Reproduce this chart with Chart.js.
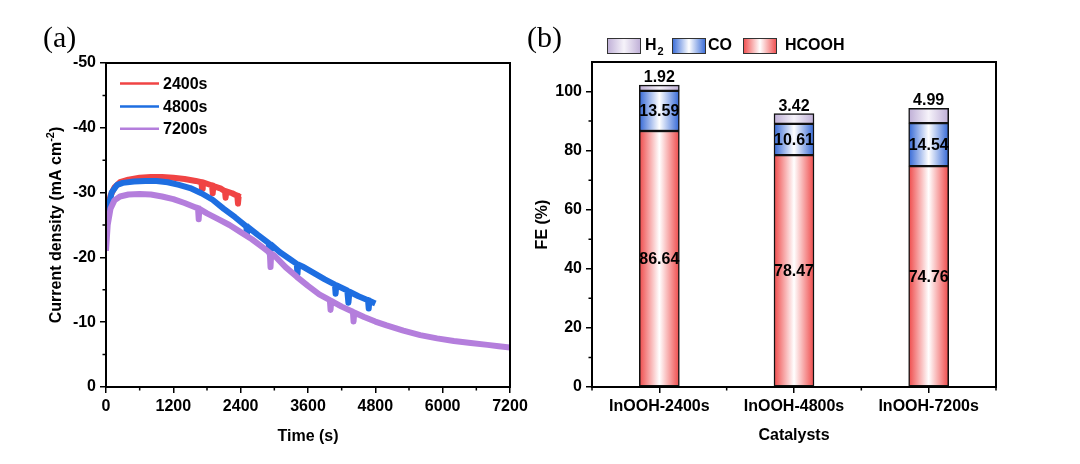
<!DOCTYPE html>
<html>
<head>
<meta charset="utf-8">
<script src="https://cdn.jsdelivr.net/npm/chart.js@4.4.1/dist/chart.umd.min.js"></script>
<style>
  html, body { margin: 0; padding: 0; background: #fff; }
  #wrap { position: relative; width: 1080px; height: 464px; overflow: hidden; }
  .box { position: absolute; top: 0; height: 464px; }
  #boxA { left: 0; width: 540px; }
  #boxB { left: 500px; width: 580px; }
</style>
</head>
<body>
<div id="wrap">
  <div class="box" id="boxA"><canvas id="chartA"></canvas></div>
  <div class="box" id="boxB"><canvas id="chartB"></canvas></div>
</div>
<script>
// (a) chronoamperometry curves (s, mA cm-2)
const redTime = [0, 30, 80, 150, 250, 400, 600, 800, 1000, 1200, 1400, 1600, 1700, 1712, 1724, 1890, 1902, 1914, 2050, 2120, 2132, 2144, 2250, 2340, 2352, 2364, 2400];
const redJ = [-24.5, -27.5, -29.5, -30.8, -31.6, -32.0, -32.3, -32.4, -32.4, -32.3, -32.1, -31.8, -31.6, -30.6, -31.6, -31.1, -29.9, -31.0, -30.6, -30.2, -29.2, -30.2, -29.9, -29.5, -28.3, -29.4, -29.3];

const blueTime = [0, 40, 100, 200, 300, 500, 700, 900, 1100, 1300, 1500, 1700, 1900, 2100, 2300, 2500, 2512, 2524, 2700, 2900, 2920, 2940, 3100, 3300, 3400, 3412, 3424, 3500, 3700, 3900, 4080, 4092, 4104, 4300, 4320, 4340, 4500, 4670, 4682, 4694, 4800];
const blueJ = [-24.5, -27.5, -30.0, -31.2, -31.5, -31.7, -31.8, -31.8, -31.6, -31.2, -30.7, -29.9, -28.9, -27.5, -26.2, -24.8, -23.6, -24.7, -23.5, -22.2, -20.4, -22.0, -20.8, -19.6, -19.0, -17.4, -18.9, -18.6, -17.6, -16.6, -15.8, -14.4, -15.7, -14.9, -13.0, -14.7, -14.0, -13.4, -12.1, -13.3, -12.9];

const purpleTime = [0, 30, 80, 150, 250, 400, 600, 800, 1000, 1200, 1400, 1600, 1640, 1652, 1664, 1800, 2000, 2200, 2400, 2600, 2800, 2920, 2932, 2944, 3000, 3200, 3400, 3600, 3800, 3990, 4002, 4014, 4200, 4400, 4412, 4424, 4600, 4800, 5000, 5300, 5600, 5900, 6200, 6500, 6800, 7000, 7200];
const purpleJ = [-21.0, -25.0, -27.5, -28.8, -29.4, -29.7, -29.8, -29.7, -29.4, -29.0, -28.4, -27.7, -27.6, -25.9, -27.5, -26.8, -25.9, -25.0, -23.9, -22.8, -21.5, -20.7, -18.5, -20.6, -20.3, -18.5, -17.0, -15.6, -14.3, -13.4, -11.9, -13.3, -12.4, -11.6, -10.1, -11.5, -10.8, -10.1, -9.5, -8.7, -8.0, -7.5, -7.1, -6.8, -6.5, -6.3, -6.1];

const curveLabels = ["2400s", "4800s", "7200s"];
const curveColors = ["#f04444", "#1e6ee1", "#b47edc"];

const timeMinor = [600, 1800, 3000, 4200, 5400, 6600];
const jMinor = [-45, -35, -25, -15, -5];

// (b) Faradaic efficiency (%)
const catalysts = ["InOOH-2400s", "InOOH-4800s", "InOOH-7200s"];
const feHCOOH = [86.64, 78.47, 74.76];
const feCO = [13.59, 10.61, 14.54];
const feH2 = [1.92, 3.42, 4.99];
const feMinor = [10, 30, 50, 70, 90];
const catMinor = [-0.5, 0.5, 1.5, 2.5];

const FONT = '"Liberation Sans", Arial, Helvetica, sans-serif';
const tickFont = { family: FONT, size: 16, weight: 'bold' };

// frame round the plot area plus short minor ticks
const framePlugin = {
  id: 'frame',
  afterDraw(chart, args, opts) {
    const { ctx, chartArea: a, scales } = chart;
    ctx.save();
    ctx.strokeStyle = '#000';
    ctx.lineWidth = 2;
    ctx.strokeRect(a.left, a.top, a.right - a.left, a.bottom - a.top);
    ctx.lineWidth = 1.5;
    ctx.beginPath();
    (opts.minorX || []).forEach(v => {
      const px = scales.x.getPixelForValue(v);
      ctx.moveTo(px, a.bottom);
      ctx.lineTo(px, a.bottom + 3.5);
    });
    (opts.minorY || []).forEach(v => {
      const py = scales.y.getPixelForValue(v);
      ctx.moveTo(a.left, py);
      ctx.lineTo(a.left - 3.5, py);
    });
    ctx.stroke();
    if (opts.panel) {
      ctx.fillStyle = '#000';
      ctx.font = '30px "Liberation Serif", "Times New Roman", serif';
      ctx.textBaseline = 'middle';
      ctx.textAlign = 'left';
      ctx.fillText(opts.panel.text, opts.panel.x, opts.panel.y);
    }
    ctx.restore();
  }
};

// legend inside panel (a) and the y title with superscript
const curveLegend = {
  id: 'curveLegend',
  afterDraw(chart) {
    const { ctx, chartArea: a } = chart;
    ctx.save();
    ctx.font = 'bold 16px ' + FONT;
    ctx.textBaseline = 'middle';
    ctx.textAlign = 'left';
    const rows = [20.5, 43.5, 65.8];
    curveLabels.forEach((lab, i) => {
      const y = a.top + rows[i];
      ctx.strokeStyle = curveColors[i];
      ctx.lineWidth = 2.5;
      ctx.beginPath();
      ctx.moveTo(a.left + 14, y);
      ctx.lineTo(a.left + 53, y);
      ctx.stroke();
      ctx.fillStyle = '#000';
      ctx.fillText(lab, a.left + 57, y + 1);
    });

    // y axis title
    ctx.translate(57, (a.top + a.bottom) / 2);
    ctx.rotate(-Math.PI / 2);
    const main = 'Current density (mA cm';
    const sup = '-2';
    const end = ')';
    const big = 'bold 16px ' + FONT;
    const small = 'bold 11px ' + FONT;
    ctx.font = big;
    const w1 = ctx.measureText(main).width;
    const w3 = ctx.measureText(end).width;
    ctx.font = small;
    const w2 = ctx.measureText(sup).width;
    let x = -(w1 + w2 + w3) / 2;
    ctx.fillStyle = '#000';
    ctx.font = big;
    ctx.fillText(main, x, 0);
    x += w1;
    ctx.font = small;
    ctx.fillText(sup, x, -6);
    x += w2;
    ctx.font = big;
    ctx.fillText(end, x, 0);
    ctx.restore();
  }
};

function toPoints(ts, js) {
  return ts.map((t, i) => ({ x: t, y: js[i] }));
}

new Chart(document.getElementById('chartA'), {
  type: 'line',
  data: {
    datasets: [
      { label: curveLabels[0], data: toPoints(redTime, redJ), borderColor: curveColors[0], order: 3 },
      { label: curveLabels[1], data: toPoints(blueTime, blueJ), borderColor: curveColors[1], order: 2 },
      { label: curveLabels[2], data: toPoints(purpleTime, purpleJ), borderColor: curveColors[2], order: 1 },
    ],
  },
  options: {
    responsive: true,
    maintainAspectRatio: false,
    animation: false,
    events: [],
    layout: { padding: { left: 0, top: 63, right: 30, bottom: 0 } },
    elements: {
      point: { radius: 0 },
      line: { borderWidth: 6, tension: 0, borderJoinStyle: 'round', borderCapStyle: 'butt' },
    },
    plugins: {
      legend: { display: false },
      tooltip: { enabled: false },
      frame: { minorX: timeMinor, minorY: jMinor, panel: { text: '(a)', x: 43, y: 39 } },
    },
    scales: {
      x: {
        type: 'linear',
        min: 0,
        max: 7200,
        afterFit: (s) => { s.height = 77; },
        border: { display: false },
        grid: { drawOnChartArea: false, tickLength: 6, color: '#000', lineWidth: 1.5 },
        ticks: { stepSize: 1200, color: '#000', font: tickFont, padding: 4, maxRotation: 0, callback: (v) => String(v) },
        title: { display: true, text: 'Time (s)', color: '#000', font: tickFont, padding: { top: 0, bottom: 18 } },
      },
      y: {
        type: 'linear',
        min: -50,
        max: 0,
        reverse: true,
        afterFit: (s) => { s.width = 106; },
        border: { display: false },
        grid: { drawOnChartArea: false, tickLength: 6, color: '#000', lineWidth: 1.5 },
        ticks: { stepSize: 10, color: '#000', font: tickFont, padding: 4, callback: (v) => String(v) },
      },
    },
  },
  plugins: [framePlugin, curveLegend],
});

// horizontal edge-white-edge gradient for each bar
function barFill(edge, mid) {
  return (ctx) => {
    const xs = ctx.chart.scales.x;
    if (ctx.type !== 'data' || !xs || !xs.width) return edge;
    const cx = xs.getPixelForValue(ctx.dataIndex);
    const g = ctx.chart.ctx.createLinearGradient(cx - 20, 0, cx + 20, 0);
    g.addColorStop(0, edge);
    g.addColorStop(0.5, mid);
    g.addColorStop(1, edge);
    return g;
  };
}

const feColors = {
  H2: ['#beaed6', '#f6f3fa'],
  CO: ['#3468d6', '#ffffff'],
  HCOOH: ['#ef4a4a', '#ffffff'],
};

const valueLabels = {
  id: 'valueLabels',
  afterDatasetsDraw(chart) {
    const { ctx } = chart;
    ctx.save();
    ctx.font = 'bold 16px ' + FONT;
    ctx.fillStyle = '#000';
    ctx.textAlign = 'center';
    chart.data.datasets.forEach((ds, di) => {
      chart.getDatasetMeta(di).data.forEach((bar, i) => {
        const txt = ds.data[i].toFixed(2);
        if (ds.label === 'H2') {
          ctx.textBaseline = 'alphabetic';
          ctx.fillText(txt, bar.x, bar.y - 3);
        } else {
          ctx.textBaseline = 'middle';
          ctx.fillText(txt, bar.x, (bar.y + bar.base) / 2 + 1);
        }
      });
    });
    ctx.restore();
  }
};

const feLegend = {
  id: 'feLegend',
  afterDraw(chart) {
    const { ctx } = chart;
    const items = [
      { key: 'H2', bx: 107, tx: 145 },
      { key: 'CO', bx: 172, tx: 208 },
      { key: 'HCOOH', bx: 243, tx: 285 },
    ];
    ctx.save();
    items.forEach(it => {
      const [edge, mid] = feColors[it.key];
      const g = ctx.createLinearGradient(it.bx, 0, it.bx + 34, 0);
      g.addColorStop(0, edge);
      g.addColorStop(0.5, mid);
      g.addColorStop(1, edge);
      ctx.fillStyle = g;
      ctx.fillRect(it.bx, 38.5, 34, 15);
      ctx.strokeStyle = '#333';
      ctx.lineWidth = 1;
      ctx.strokeRect(it.bx + 0.5, 38.5, 33, 15);
      ctx.fillStyle = '#000';
      ctx.textBaseline = 'middle';
      ctx.textAlign = 'left';
      ctx.font = 'bold 16px ' + FONT;
      if (it.key === 'H2') {
        ctx.fillText('H', it.tx, 46);
        const w = ctx.measureText('H').width;
        ctx.font = 'bold 11px ' + FONT;
        ctx.fillText('2', it.tx + w + 1, 52);
      } else {
        ctx.fillText(it.key, it.tx, 46);
      }
    });
    ctx.restore();
  }
};

new Chart(document.getElementById('chartB'), {
  type: 'bar',
  data: {
    labels: catalysts,
    datasets: [
      { label: 'HCOOH', data: feHCOOH, backgroundColor: barFill(...feColors.HCOOH) },
      { label: 'CO', data: feCO, backgroundColor: barFill(...feColors.CO) },
      { label: 'H2', data: feH2, backgroundColor: barFill(...feColors.H2) },
    ],
  },
  options: {
    responsive: true,
    maintainAspectRatio: false,
    animation: false,
    events: [],
    layout: { padding: { left: 0, top: 62, right: 84, bottom: 0 } },
    datasets: {
      bar: { barThickness: 40, borderWidth: 1.5, borderColor: '#111', borderSkipped: false },
    },
    plugins: {
      legend: { display: false },
      tooltip: { enabled: false },
      frame: { minorX: catMinor, minorY: feMinor, panel: { text: '(b)', x: 27, y: 39 } },
    },
    scales: {
      x: {
        stacked: true,
        afterFit: (s) => { s.height = 77; },
        border: { display: false },
        grid: { offset: false, drawOnChartArea: false, tickLength: 6, color: '#000', lineWidth: 1.5 },
        ticks: { color: '#000', font: tickFont, padding: 4, maxRotation: 0 },
        title: { display: true, text: 'Catalysts', color: '#000', font: tickFont, padding: { top: 0, bottom: 19 } },
      },
      y: {
        stacked: true,
        min: 0,
        max: 110,
        afterFit: (s) => { s.width = 92; },
        afterBuildTicks: (s) => { s.ticks = s.ticks.filter(t => t.value <= 100); },
        border: { display: false },
        grid: { drawOnChartArea: false, tickLength: 6, color: '#000', lineWidth: 1.5 },
        ticks: { stepSize: 20, color: '#000', font: tickFont, padding: 4 },
        title: { display: true, text: 'FE (%)', color: '#000', font: tickFont, padding: { top: 33, bottom: 0 } },
      },
    },
  },
  plugins: [framePlugin, valueLabels, feLegend],
});
</script>
</body>
</html>
